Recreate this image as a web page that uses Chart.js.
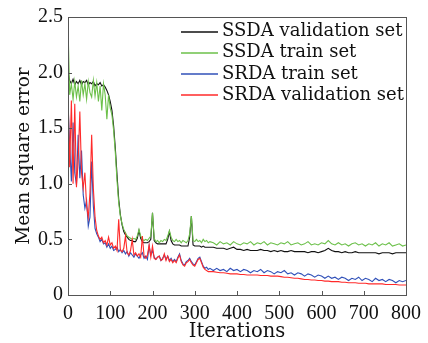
<!DOCTYPE html>
<html>
<head>
<meta charset="utf-8">
<script src="https://cdn.jsdelivr.net/npm/chart.js@4/dist/chart.umd.min.js"></script>
<style>
html,body{margin:0;padding:0;background:#fff;}
#c{display:block;}
</style>
</head>
<body>
<canvas id="c" width="428" height="343"></canvas>
<script>
// Iterations (x values)
const iterations = [
  0,4,8,12,16,20,24,28,32,36,
  40,44,48,52,56,60,64,68,72,76,
  80,84,88,92,96,100,104,108,112,116,
  120,124,128,132,136,140,144,148,152,156,
  160,164,168,172,176,180,184,188,192,196,
  200,204,208,212,216,220,224,228,232,236,
  240,244,248,252,256,260,264,268,272,276,
  280,284,288,292,296,300,304,308,312,316,
  320,324,328,332,336,
  344,352,360,368,376,384,392,400,
  408,416,424,432,440,448,456,464,
  472,480,488,496,504,512,520,528,
  536,544,552,560,568,576,584,592,
  600,608,616,624,632,640,648,656,
  664,672,680,688,696,704,712,720,
  728,736,744,752,760,768,776,784,
  792,800
];

const ssdaValidation = [
  2.00,1.93,1.90,1.94,1.89,1.92,1.90,1.93,1.89,1.92,
  1.91,1.93,1.89,1.91,1.90,1.92,1.88,1.90,1.89,1.91,
  1.88,1.89,1.87,1.84,1.80,1.74,1.66,1.52,1.32,1.08,
  0.86,0.72,0.63,0.57,0.54,0.52,0.50,0.49,0.49,0.48,
  0.48,0.51,0.58,0.51,0.48,0.47,0.47,0.47,0.48,0.50,
  0.74,0.49,0.47,0.46,0.46,0.46,0.46,0.46,0.46,0.50,
  0.57,0.49,0.46,0.45,0.45,0.45,0.45,0.44,0.44,0.44,
  0.44,0.44,0.52,0.71,0.45,0.44,0.44,0.44,0.44,0.43,
  0.44,0.43,0.43,0.43,0.43,
  0.43,0.42,0.42,0.42,0.41,0.42,0.43,0.41,
  0.41,0.40,0.41,0.40,0.40,0.40,0.41,0.40,
  0.40,0.39,0.40,0.39,0.40,0.39,0.39,0.40,
  0.39,0.39,0.39,0.39,0.38,0.39,0.39,0.38,
  0.39,0.40,0.42,0.40,0.39,0.39,0.38,0.39,
  0.38,0.38,0.39,0.38,0.38,0.38,0.38,0.38,
  0.38,0.37,0.38,0.38,0.38,0.37,0.38,0.38,
  0.38,0.38
];

const ssdaTrain = [
  2.42,1.80,1.90,1.76,1.92,1.78,1.88,1.74,1.93,1.80,
  1.90,1.76,1.92,1.82,1.78,1.93,1.79,1.91,1.74,1.88,
  1.66,1.90,1.80,1.58,1.80,1.68,1.62,1.48,1.28,1.03,
  0.83,0.71,0.64,0.59,0.56,0.53,0.52,0.51,0.50,0.51,
  0.50,0.53,0.59,0.53,0.50,0.49,0.50,0.49,0.51,0.53,
  0.74,0.51,0.48,0.49,0.47,0.49,0.48,0.50,0.49,0.53,
  0.58,0.52,0.49,0.48,0.50,0.48,0.49,0.47,0.49,0.48,
  0.47,0.49,0.55,0.71,0.49,0.48,0.50,0.48,0.49,0.47,
  0.50,0.48,0.49,0.47,0.48,
  0.47,0.45,0.48,0.46,0.47,0.45,0.48,0.46,
  0.45,0.47,0.46,0.48,0.45,0.47,0.46,0.48,
  0.45,0.47,0.46,0.45,0.47,0.46,0.48,0.45,
  0.46,0.47,0.45,0.46,0.48,0.45,0.46,0.45,
  0.47,0.46,0.49,0.46,0.45,0.47,0.45,0.46,
  0.44,0.46,0.47,0.45,0.46,0.44,0.46,0.45,
  0.47,0.44,0.46,0.45,0.47,0.44,0.45,0.46,
  0.44,0.45
];

const srdaTrain = [
  1.72,1.35,1.02,1.55,1.10,0.99,1.44,1.05,1.30,0.90,
  0.78,0.85,0.62,0.70,1.20,0.80,0.60,0.55,0.52,0.48,
  0.50,0.46,0.47,0.43,0.46,0.42,0.44,0.40,0.41,0.43,
  0.39,0.41,0.38,0.40,0.37,0.39,0.35,0.38,0.36,0.34,
  0.37,0.35,0.33,0.36,0.38,0.33,0.35,0.32,0.44,0.36,
  0.40,0.34,0.32,0.34,0.35,0.31,0.33,0.36,0.32,0.35,
  0.31,0.33,0.30,0.32,0.30,0.34,0.37,0.31,0.28,0.27,
  0.30,0.31,0.33,0.30,0.28,0.27,0.30,0.33,0.34,0.30,
  0.26,0.24,0.25,0.23,0.24,
  0.22,0.24,0.22,0.23,0.21,0.24,0.22,0.23,
  0.21,0.23,0.22,0.20,0.22,0.21,0.23,0.20,
  0.22,0.21,0.19,0.21,0.20,0.22,0.19,0.20,
  0.18,0.20,0.19,0.17,0.19,0.18,0.16,0.18,
  0.17,0.15,0.17,0.15,0.16,0.14,0.16,0.15,
  0.13,0.15,0.14,0.16,0.13,0.15,0.14,0.12,
  0.15,0.13,0.14,0.12,0.14,0.13,0.11,0.13,
  0.12,0.13
];

const srdaValidation = [
  1.82,1.15,1.75,1.00,1.72,0.97,1.20,1.65,1.10,0.96,
  1.10,0.80,0.70,0.92,1.44,0.96,0.70,0.58,0.53,0.50,
  0.52,0.47,0.49,0.45,0.52,0.45,0.47,0.42,0.44,0.40,
  0.68,0.40,0.39,0.42,0.53,0.38,0.36,0.40,0.50,0.36,
  0.38,0.35,0.37,0.34,0.53,0.35,0.33,0.36,0.45,0.34,
  0.44,0.33,0.32,0.34,0.35,0.31,0.32,0.37,0.31,0.35,
  0.30,0.32,0.29,0.31,0.29,0.33,0.36,0.30,0.27,0.26,
  0.29,0.30,0.32,0.29,0.27,0.26,0.29,0.32,0.33,0.29,
  0.25,0.23,0.22,0.21,0.21,
  0.21,0.205,0.20,0.20,0.195,0.19,0.19,0.19,
  0.185,0.185,0.18,0.18,0.18,0.18,0.175,0.175,
  0.175,0.17,0.17,0.17,0.165,0.16,0.16,0.155,
  0.15,0.15,0.145,0.14,0.14,0.135,0.135,0.13,
  0.13,0.125,0.125,0.12,0.12,0.12,0.115,0.115,
  0.11,0.11,0.11,0.105,0.105,0.105,0.10,0.10,
  0.10,0.10,0.10,0.095,0.095,0.095,0.095,0.09,
  0.09,0.09
];

const seriesLabels = ["SSDA validation set","SSDA train set","SRDA train set","SRDA validation set"];
const seriesColors = ["#111111","#6cc04a","#3050b8","#ff2a2a"];
const seriesValues = [ssdaValidation, ssdaTrain, srdaTrain, srdaValidation];
const xTicks = [0,100,200,300,400,500,600,700,800];
const yTicks = [0,0.5,1.0,1.5,2.0,2.5];

const SERIF = "'DejaVu Serif', serif";

const datasets = seriesValues.map((vals, k) => ({
  label: seriesLabels[k],
  data: iterations.map((x, i) => ({x: x, y: vals[i]})),
  borderColor: seriesColors[k],
  backgroundColor: seriesColors[k],
  borderWidth: 1.1,
  pointRadius: 0,
  tension: 0,
  fill: false,
  order: 3 - k
}));

const framePlugin = {
  id: 'frame',
  afterDatasetsDraw(chart) {
    const {ctx, chartArea: a, scales} = chart;
    ctx.save();
    ctx.strokeStyle = '#555555';
    ctx.lineWidth = 1;
    ctx.strokeRect(Math.round(a.left) + 0.5, Math.round(a.top) + 0.5,
                   Math.round(a.right - a.left), Math.round(a.bottom - a.top));
    ctx.beginPath();
    xTicks.forEach(v => {
      const px = Math.round(scales.x.getPixelForValue(v)) + 0.5;
      ctx.moveTo(px, a.bottom);
      ctx.lineTo(px, a.bottom - 4);
    });
    yTicks.forEach(v => {
      const py = Math.round(scales.y.getPixelForValue(v)) + 0.5;
      ctx.moveTo(a.left, py);
      ctx.lineTo(a.left + 4, py);
    });
    ctx.stroke();
    ctx.restore();
  },
  afterDraw(chart) {
    const {ctx} = chart;
    ctx.save();
    ctx.font = "18px " + SERIF;
    ctx.textBaseline = 'middle';
    ctx.textAlign = 'left';
    for (let i = 0; i < seriesLabels.length; i++) {
      const y = 31.5 + i * 21.2;
      ctx.beginPath();
      ctx.strokeStyle = seriesColors[i];
      ctx.lineWidth = 1.5;
      ctx.moveTo(181, Math.round(y));
      ctx.lineTo(218, Math.round(y));
      ctx.stroke();
      ctx.fillStyle = '#111';
      ctx.fillText(seriesLabels[i], 222, y);
    }
    ctx.restore();
  }
};

new Chart(document.getElementById('c'), {
  type: 'line',
  data: {datasets: datasets},
  options: {
    responsive: false,
    animation: false,
    devicePixelRatio: 1,
    layout: {padding: {top: 14, right: 17, left: 0, bottom: 0}},
    plugins: {legend: {display: false}, tooltip: {enabled: false}},
    scales: {
      x: {
        type: 'linear',
        min: 0, max: 800,
        afterFit(s) { s.height = 48; },
        grid: {display: false, drawTicks: false},
        border: {display: false},
        afterBuildTicks(s) { s.ticks = xTicks.map(v => ({value: v})); },
        ticks: {
          padding: 7,
          maxRotation: 0,
          autoSkip: false,
          color: '#111',
          font: {family: "'Liberation Serif', serif", size: 20},
          callback: v => String(v)
        },
        title: {
          display: true, text: 'Iterations', color: '#111',
          font: {family: SERIF, size: 19.5, lineHeight: 1},
          padding: {top: 0, bottom: 1}
        }
      },
      y: {
        type: 'linear',
        min: 0, max: 2.5,
        afterFit(s) { s.width = 68; },
        grid: {display: false, drawTicks: false},
        border: {display: false},
        afterBuildTicks(s) { s.ticks = yTicks.map(v => ({value: v})); },
        ticks: {
          padding: 5,
          autoSkip: false,
          color: '#111',
          font: {family: "'Liberation Serif', serif", size: 20},
          callback: v => (v === 0 ? '0' : Number(v).toFixed(1))
        },
        title: {
          display: true, text: 'Mean square error', color: '#111',
          font: {family: SERIF, size: 18.5, lineHeight: 1},
          padding: {top: 15, bottom: 0}
        }
      }
    }
  },
  plugins: [framePlugin]
});
</script>
</body>
</html>
